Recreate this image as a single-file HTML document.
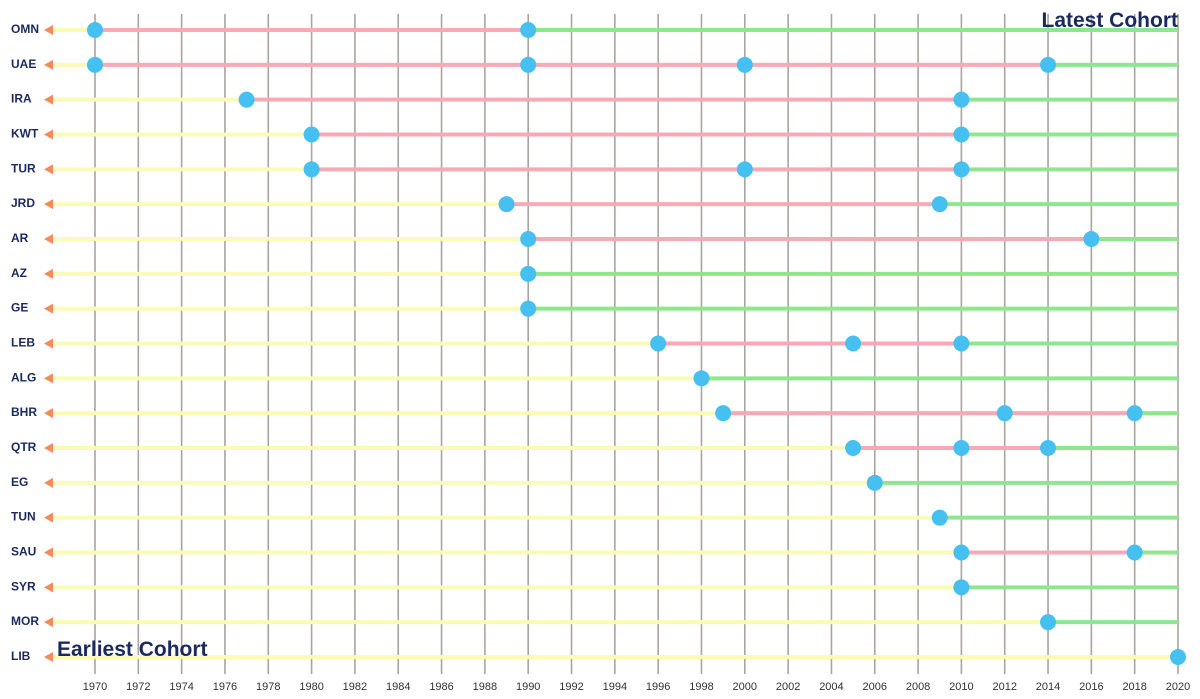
<!DOCTYPE html>
<html><head><meta charset="utf-8"><style>
html,body{margin:0;padding:0;background:#fff;}
svg{display:block;font-family:"Liberation Sans",sans-serif;}
</style></head><body>
<svg id="chart" width="1200" height="699">
<g id="grid"></g>
<g id="rows"></g>
<g id="xticks"></g>
<text x="1178" y="27" text-anchor="end" font-size="21" font-weight="bold" fill="#1b2a5e">Latest Cohort</text>
<text x="57" y="656" font-size="21" font-weight="bold" fill="#1b2a5e">Earliest Cohort</text>
</svg>
<script>
const countries = ["OMN","UAE","IRA","KWT","TUR","JRD","AR","AZ","GE","LEB","ALG","BHR","QTR","EG","TUN","SAU","SYR","MOR","LIB"];
const events = [[1970,1990],[1970,1990,2000,2014],[1977,2010],[1980,2010],[1980,2000,2010],[1989,2009],[1990,2016],[1990],[1990],[1996,2005,2010],[1998],[1999,2012,2018],[2005,2010,2014],[2006],[2009],[2010,2018],[2010],[2014],[2020]];
const tickYears = [1970,1972,1974,1976,1978,1980,1982,1984,1986,1988,1990,1992,1994,1996,1998,2000,2002,2004,2006,2008,2010,2012,2014,2016,2018,2020];
const NS="http://www.w3.org/2000/svg";
const x = yr => 95 + (yr-1970)*(1178-95)/50;
const y = i => 30 + i*(657-30)/18;
function mk(tag, attrs, parent){const e=document.createElementNS(NS,tag);for(const k in attrs)e.setAttribute(k,attrs[k]);parent.appendChild(e);return e;}
const grid=document.getElementById('grid'), rows=document.getElementById('rows'), xt=document.getElementById('xticks');
tickYears.forEach(t=>{
  const l=mk('line',{x1:x(t),x2:x(t),y1:14,y2:674,stroke:'#a8a4a0','stroke-width':1.6},grid);
  
  
  const tx=mk('text',{x:x(t),y:690,'text-anchor':'middle','font-size':11,fill:'#333'},xt);
  tx.textContent=t;
  
  
});
countries.forEach((c,i)=>{
  const yy=y(i), ev=events[i];
  const g=mk('g',{},rows);
  
  
  const lb=mk('text',{x:11,y:yy+3,'font-size':12,'font-weight':'bold',fill:'#1b2a5e'},g);
  lb.textContent=c;
  
  
  const ar=mk('polygon',{points:`44,${yy} 53,${yy-5} 53,${yy+5}`,fill:'#f58a5a'},g);
  
  
  const s1=mk('line',{x1:53,x2:x(ev[0]),y1:yy,y2:yy,stroke:'#fbfbb8','stroke-width':4},g);
  
  
  for(let k=0;k<ev.length-1;k++){
    const s=mk('line',{x1:x(ev[k]),x2:x(ev[k+1]),y1:yy,y2:yy,stroke:'#f8a9b6','stroke-width':4},g);
    
    
  }
  const last=ev[ev.length-1];
  if(last<2020){
    const s=mk('line',{x1:x(last),x2:1178,y1:yy,y2:yy,stroke:'#8ee68e','stroke-width':4},g);
    
    
  }
  ev.forEach(e=>{
    const p=mk('circle',{cx:x(e),cy:yy,r:8,fill:'#45c0f0'},g);
    
    
  });
});
</script>
</body></html>
